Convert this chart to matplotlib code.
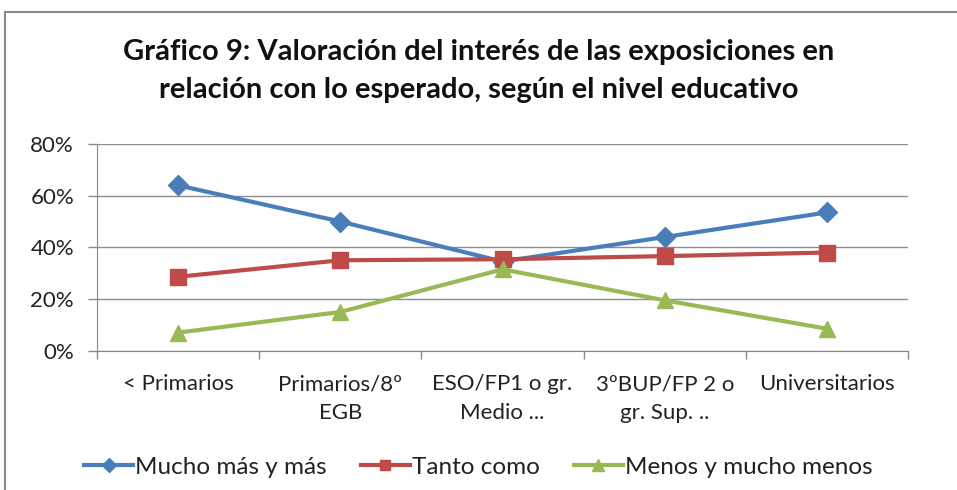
import matplotlib
matplotlib.use("Agg")
import matplotlib.pyplot as plt
from matplotlib.patches import Rectangle
from matplotlib.ticker import FixedLocator, PercentFormatter

categories = ["< Primarios", "Primarios/8º\nEGB", "ESO/FP1 o gr.\nMedio ...", "3ºBUP/FP 2 o\ngr. Sup. ..", "Universitarios"]
mucho_mas = [64, 50, 34.5, 44, 53.5]
tanto_como = [28.6, 35, 35.4, 36.6, 38]
menos = [7, 15, 31.5, 19.5, 8.5]
series_names = ["Mucho más y más", "Tanto como", "Menos y mucho menos"]
yticks = [0, 20, 40, 60, 80]

plt.rcParams['font.family'] = ['Lato', 'DejaVu Sans']

fig = plt.figure(figsize=(9.57, 4.9), dpi=100)
ax = fig.add_axes([97/957, 1-350.7/490, (908-97)/957, (350.7-144)/490])

x = list(range(len(categories)))
ax.plot(x, mucho_mas, color="#4A7EBB", lw=3, marker="D", ms=10, label=series_names[0], zorder=3)
ax.plot(x, tanto_como, color="#BE4B48", lw=3, marker="s", ms=11, label=series_names[1], zorder=3)
ax.plot(x, menos, color="#98B954", lw=3, marker="^", ms=12, label=series_names[2], zorder=3)

ax.set_xlim(-0.5, len(categories)-0.5)
ax.set_ylim(0, 80)
ax.set_yticks(yticks)
ax.yaxis.set_major_formatter(PercentFormatter(decimals=0))
ax.set_xticks(x)
ax.set_xticklabels(categories)
ax.xaxis.set_minor_locator(FixedLocator([i-0.5 for i in range(len(categories)+1)]))
ax.tick_params(axis='x', which='major', length=0, pad=17, labelsize=16, colors='#222222')
ax.tick_params(axis='x', which='minor', length=6, width=1, color='#888888', direction='out')
ax.tick_params(axis='y', length=6.5, width=1, color='#888888', labelsize=16, pad=10, labelcolor='#222222')
for lab in ax.get_xticklabels():
    lab.set_linespacing(1.55)
    lab.set_color('#222222')

ax.grid(axis='y', color='#8c8c8c', lw=1)
ax.set_axisbelow(True)
for s in ['top', 'right']:
    ax.spines[s].set_visible(False)
ax.spines['left'].set_color('#888888')
ax.spines['bottom'].set_color('#888888')

fig.text(0.5, 1-71/490, "Gráfico 9: Valoración del interés de las exposiciones en\nrelación con lo esperado, según el nivel educativo",
         ha='center', va='center', fontsize=21, fontweight='bold', linespacing=1.6, color='#111111')

leg = fig.legend(loc='center', bbox_to_anchor=(0.5, 1-467/490), ncol=3, frameon=False,
                 fontsize=17.5, handlelength=2.0, handletextpad=0.1, columnspacing=1.4, markerscale=0.7)
for t in leg.get_texts():
    t.set_color('#222222')

fig.patches.append(Rectangle((5/957, -0.1), 1.1, 1-12/490+0.1, transform=fig.transFigure,
                             fill=False, edgecolor='#8a8a8a', lw=1.5, figure=fig))

fig.savefig("out.png", dpi=100)
